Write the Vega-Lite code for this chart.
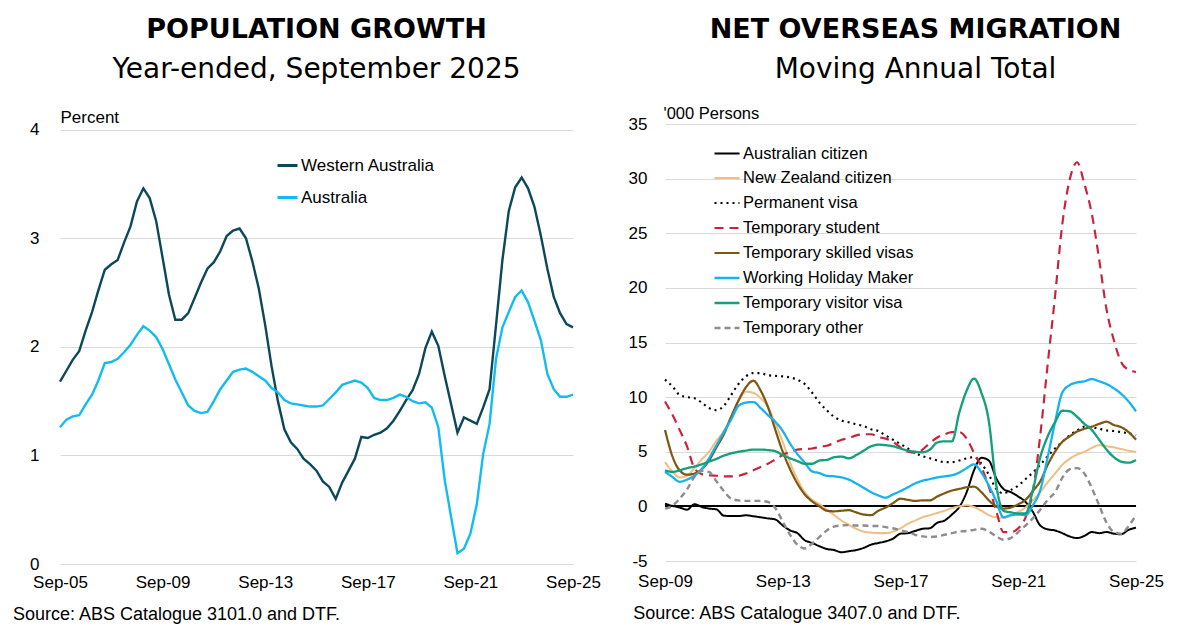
{
"$schema": "https://vega.github.io/schema/vega-lite/v6.json",
"background": "white",
"padding": {"left": 12, "top": 15, "right": 20, "bottom": 2},
"config": {
  "font": "Liberation Sans",
  "view": {"stroke": null},
  "axis": {"labelFont": "Liberation Sans", "titleFont": "Liberation Sans", "labelColor": "black", "titleColor": "black"},
  "legend": {"labelFont": "Liberation Sans"},
  "concat": {"spacing": 27}
},
"resolve": {"scale": {"color": "independent", "strokeDash": "independent", "strokeWidth": "independent", "x": "independent", "y": "independent"}},
"hconcat": [
{
  "width": 513, "height": 440,
  "title": {"text": "POPULATION GROWTH", "subtitle": "Year-ended, September 2025", "font": "DejaVu Sans", "fontSize": 27, "fontWeight": "bold", "color": "black", "subtitleFont": "DejaVu Sans", "subtitleFontSize": 28, "subtitleColor": "black", "subtitlePadding": 12, "anchor": "middle", "frame": "group", "offset": 23.6},
  "data": {"values": [
{"d":"2005-09-01","Western Australia":1.68,"Australia":1.26},
{"d":"2005-12-01","Western Australia":1.78,"Australia":1.33},
{"d":"2006-03-01","Western Australia":1.88,"Australia":1.36},
{"d":"2006-06-01","Western Australia":1.96,"Australia":1.37},
{"d":"2006-09-01","Western Australia":2.15,"Australia":1.47},
{"d":"2006-12-01","Western Australia":2.32,"Australia":1.56},
{"d":"2007-03-01","Western Australia":2.52,"Australia":1.69},
{"d":"2007-06-01","Western Australia":2.71,"Australia":1.85},
{"d":"2007-09-01","Western Australia":2.76,"Australia":1.86},
{"d":"2007-12-01","Western Australia":2.80,"Australia":1.89},
{"d":"2008-03-01","Western Australia":2.96,"Australia":1.95},
{"d":"2008-06-01","Western Australia":3.11,"Australia":2.02},
{"d":"2008-09-01","Western Australia":3.34,"Australia":2.11},
{"d":"2008-12-01","Western Australia":3.46,"Australia":2.19},
{"d":"2009-03-01","Western Australia":3.37,"Australia":2.15},
{"d":"2009-06-01","Western Australia":3.16,"Australia":2.09},
{"d":"2009-09-01","Western Australia":2.82,"Australia":1.98},
{"d":"2009-12-01","Western Australia":2.48,"Australia":1.84},
{"d":"2010-03-01","Western Australia":2.25,"Australia":1.70},
{"d":"2010-06-01","Western Australia":2.25,"Australia":1.58},
{"d":"2010-09-01","Western Australia":2.31,"Australia":1.46},
{"d":"2010-12-01","Western Australia":2.45,"Australia":1.41},
{"d":"2011-03-01","Western Australia":2.59,"Australia":1.39},
{"d":"2011-06-01","Western Australia":2.72,"Australia":1.40},
{"d":"2011-09-01","Western Australia":2.78,"Australia":1.50},
{"d":"2011-12-01","Western Australia":2.88,"Australia":1.61},
{"d":"2012-03-01","Western Australia":3.02,"Australia":1.69},
{"d":"2012-06-01","Western Australia":3.07,"Australia":1.77},
{"d":"2012-09-01","Western Australia":3.09,"Australia":1.79},
{"d":"2012-12-01","Western Australia":3.00,"Australia":1.80},
{"d":"2013-03-01","Western Australia":2.79,"Australia":1.77},
{"d":"2013-06-01","Western Australia":2.54,"Australia":1.73},
{"d":"2013-09-01","Western Australia":2.20,"Australia":1.69},
{"d":"2013-12-01","Western Australia":1.82,"Australia":1.62},
{"d":"2014-03-01","Western Australia":1.50,"Australia":1.58},
{"d":"2014-06-01","Western Australia":1.24,"Australia":1.51},
{"d":"2014-09-01","Western Australia":1.12,"Australia":1.48},
{"d":"2014-12-01","Western Australia":1.06,"Australia":1.47},
{"d":"2015-03-01","Western Australia":0.97,"Australia":1.46},
{"d":"2015-06-01","Western Australia":0.92,"Australia":1.45},
{"d":"2015-09-01","Western Australia":0.86,"Australia":1.45},
{"d":"2015-12-01","Western Australia":0.76,"Australia":1.46},
{"d":"2016-03-01","Western Australia":0.71,"Australia":1.52},
{"d":"2016-06-01","Western Australia":0.60,"Australia":1.58},
{"d":"2016-09-01","Western Australia":0.75,"Australia":1.65},
{"d":"2016-12-01","Western Australia":0.86,"Australia":1.67},
{"d":"2017-03-01","Western Australia":0.97,"Australia":1.69},
{"d":"2017-06-01","Western Australia":1.17,"Australia":1.67},
{"d":"2017-09-01","Western Australia":1.16,"Australia":1.62},
{"d":"2017-12-01","Western Australia":1.19,"Australia":1.53},
{"d":"2018-03-01","Western Australia":1.21,"Australia":1.51},
{"d":"2018-06-01","Western Australia":1.25,"Australia":1.51},
{"d":"2018-09-01","Western Australia":1.32,"Australia":1.53},
{"d":"2018-12-01","Western Australia":1.41,"Australia":1.56},
{"d":"2019-03-01","Western Australia":1.51,"Australia":1.54},
{"d":"2019-06-01","Western Australia":1.60,"Australia":1.50},
{"d":"2019-09-01","Western Australia":1.75,"Australia":1.48},
{"d":"2019-12-01","Western Australia":1.99,"Australia":1.49},
{"d":"2020-03-01","Western Australia":2.14,"Australia":1.44},
{"d":"2020-06-01","Western Australia":2.01,"Australia":1.26},
{"d":"2020-09-01","Western Australia":1.73,"Australia":0.77},
{"d":"2020-12-01","Western Australia":1.47,"Australia":0.43},
{"d":"2021-03-01","Western Australia":1.21,"Australia":0.10},
{"d":"2021-06-01","Western Australia":1.35,"Australia":0.14},
{"d":"2021-09-01","Western Australia":1.32,"Australia":0.28},
{"d":"2021-12-01","Western Australia":1.29,"Australia":0.55},
{"d":"2022-03-01","Western Australia":1.44,"Australia":1.01},
{"d":"2022-06-01","Western Australia":1.61,"Australia":1.29},
{"d":"2022-09-01","Western Australia":2.20,"Australia":1.89},
{"d":"2022-12-01","Western Australia":2.80,"Australia":2.18},
{"d":"2023-03-01","Western Australia":3.25,"Australia":2.32},
{"d":"2023-06-01","Western Australia":3.47,"Australia":2.46},
{"d":"2023-09-01","Western Australia":3.56,"Australia":2.52},
{"d":"2023-12-01","Western Australia":3.46,"Australia":2.41},
{"d":"2024-03-01","Western Australia":3.29,"Australia":2.24},
{"d":"2024-06-01","Western Australia":3.02,"Australia":2.06},
{"d":"2024-09-01","Western Australia":2.72,"Australia":1.75},
{"d":"2024-12-01","Western Australia":2.46,"Australia":1.61},
{"d":"2025-03-01","Western Australia":2.31,"Australia":1.54},
{"d":"2025-06-01","Western Australia":2.21,"Australia":1.54},
{"d":"2025-09-01","Western Australia":2.18,"Australia":1.56}
  ]},
  "transform": [{"fold": ["Western Australia", "Australia"], "as": ["series", "value"]}],
  "mark": {"type": "line", "strokeWidth": 2.4, "interpolate": "linear"},
  "encoding": {
    "x": {"field": "d", "type": "temporal", "scale": {"type": "utc", "nice": false},
      "axis": {"values": [{"year":2005,"month":9,"date":1,"utc":true},{"year":2009,"month":9,"date":1,"utc":true},{"year":2013,"month":9,"date":1,"utc":true},{"year":2017,"month":9,"date":1,"utc":true},{"year":2021,"month":9,"date":1,"utc":true},{"year":2025,"month":9,"date":1,"utc":true}],
        "format": "%b-%y", "grid": false, "domain": false, "ticks": false, "labelFlush": false, "labelFontSize": 17, "labelPadding": 10,
        "title": "Source: ABS Catalogue 3101.0 and DTF.", "titleX": -47.6, "titleY": 55, "titleAlign": "left", "titleBaseline": "alphabetic", "titleFontSize": 18, "titleFontWeight": "normal"}},
    "y": {"field": "value", "type": "quantitative", "scale": {"domain": [0, 4.0525], "nice": false, "zero": false},
      "axis": {"values": [0,1,2,3,4], "grid": true, "gridColor": "#d9d9d9", "gridWidth": 1, "domain": false, "ticks": false, "labelFontSize": 17, "labelPadding": 21,
        "title": "Percent", "titleAngle": 0, "titleX": 0, "titleY": -1.6, "titleAlign": "left", "titleBaseline": "alphabetic", "titleFontSize": 17, "titleFontWeight": "normal"}},
    "color": {"field": "series", "type": "nominal", "scale": {"domain": ["Western Australia", "Australia"], "range": ["#0b4859", "#13bcef"]},
      "legend": {"title": null, "orient": "none", "legendX": 216, "legendY": 30, "symbolType": "stroke", "symbolSize": 400, "symbolStrokeWidth": 3, "labelFontSize": 17, "labelColor": "black", "labelOffset": 2, "rowPadding": 12, "labelLimit": 400}}
  }
},
{
  "width": 471, "height": 437,
  "title": {"text": "NET OVERSEAS MIGRATION", "subtitle": "Moving Annual Total", "font": "DejaVu Sans", "fontSize": 27, "fontWeight": "bold", "color": "black", "subtitleFont": "DejaVu Sans", "subtitleFontSize": 28, "subtitleColor": "black", "subtitlePadding": 12, "anchor": "middle", "frame": "group", "offset": 20.6, "dx": 15},
  "data": {"values": [
{"d":"2009-09-01","Australian citizen":0.25,"New Zealand citizen":4.05,"Permanent visa":11.6,"Temporary student":9.6,"Temporary skilled visas":7.0,"Working Holiday Maker":3.15,"Temporary visitor visa":3.3,"Temporary other":-0.2},
{"d":"2009-12-01","Australian citizen":0.05,"New Zealand citizen":3.2,"Permanent visa":11.0,"Temporary student":8.4,"Temporary skilled visas":4.6,"Working Holiday Maker":2.7,"Temporary visitor visa":3.15,"Temporary other":0.05},
{"d":"2010-03-01","Australian citizen":-0.1,"New Zealand citizen":2.65,"Permanent visa":10.2,"Temporary student":7.0,"Temporary skilled visas":3.3,"Working Holiday Maker":2.25,"Temporary visitor visa":3.3,"Temporary other":0.7},
{"d":"2010-06-01","Australian citizen":-0.3,"New Zealand citizen":2.8,"Permanent visa":10.0,"Temporary student":5.5,"Temporary skilled visas":2.9,"Working Holiday Maker":2.45,"Temporary visitor visa":3.5,"Temporary other":1.55},
{"d":"2010-09-01","Australian citizen":0.2,"New Zealand citizen":3.5,"Permanent visa":9.9,"Temporary student":3.5,"Temporary skilled visas":3.0,"Working Holiday Maker":2.8,"Temporary visitor visa":3.65,"Temporary other":2.7},
{"d":"2010-12-01","Australian citizen":-0.05,"New Zealand citizen":4.3,"Permanent visa":9.5,"Temporary student":2.95,"Temporary skilled visas":3.4,"Working Holiday Maker":3.4,"Temporary visitor visa":3.85,"Temporary other":3.25},
{"d":"2011-03-01","Australian citizen":-0.2,"New Zealand citizen":5.0,"Permanent visa":9.0,"Temporary student":2.85,"Temporary skilled visas":4.2,"Working Holiday Maker":4.4,"Temporary visitor visa":4.1,"Temporary other":3.15},
{"d":"2011-06-01","Australian citizen":-0.27,"New Zealand citizen":6.0,"Permanent visa":8.8,"Temporary student":2.8,"Temporary skilled visas":5.4,"Working Holiday Maker":5.6,"Temporary visitor visa":4.35,"Temporary other":2.3},
{"d":"2011-09-01","Australian citizen":-0.85,"New Zealand citizen":6.9,"Permanent visa":9.2,"Temporary student":2.75,"Temporary skilled visas":6.6,"Working Holiday Maker":6.8,"Temporary visitor visa":4.65,"Temporary other":1.4},
{"d":"2011-12-01","Australian citizen":-0.88,"New Zealand citizen":8.2,"Permanent visa":10.2,"Temporary student":2.75,"Temporary skilled visas":8.2,"Working Holiday Maker":7.95,"Temporary visitor visa":4.85,"Temporary other":0.7},
{"d":"2012-03-01","Australian citizen":-0.88,"New Zealand citizen":9.6,"Permanent visa":11.2,"Temporary student":2.8,"Temporary skilled visas":9.7,"Working Holiday Maker":9.2,"Temporary visitor visa":5.0,"Temporary other":0.55},
{"d":"2012-06-01","Australian citizen":-0.82,"New Zealand citizen":10.5,"Permanent visa":11.9,"Temporary student":3.0,"Temporary skilled visas":10.9,"Working Holiday Maker":9.5,"Temporary visitor visa":5.1,"Temporary other":0.5},
{"d":"2012-09-01","Australian citizen":-0.9,"New Zealand citizen":10.4,"Permanent visa":12.2,"Temporary student":3.3,"Temporary skilled visas":11.5,"Working Holiday Maker":9.55,"Temporary visitor visa":5.2,"Temporary other":0.5},
{"d":"2012-12-01","Australian citizen":-1.0,"New Zealand citizen":9.9,"Permanent visa":12.2,"Temporary student":3.6,"Temporary skilled visas":10.6,"Working Holiday Maker":9.0,"Temporary visitor visa":5.2,"Temporary other":0.5},
{"d":"2013-03-01","Australian citizen":-1.1,"New Zealand citizen":9.1,"Permanent visa":12.0,"Temporary student":3.9,"Temporary skilled visas":9.1,"Working Holiday Maker":8.35,"Temporary visitor visa":5.15,"Temporary other":0.4},
{"d":"2013-06-01","Australian citizen":-1.2,"New Zealand citizen":7.6,"Permanent visa":11.95,"Temporary student":4.3,"Temporary skilled visas":7.0,"Working Holiday Maker":7.75,"Temporary visitor visa":5.05,"Temporary other":-0.15},
{"d":"2013-09-01","Australian citizen":-1.75,"New Zealand citizen":5.9,"Permanent visa":11.9,"Temporary student":4.7,"Temporary skilled visas":5.0,"Working Holiday Maker":6.9,"Temporary visitor visa":4.7,"Temporary other":-1.4},
{"d":"2013-12-01","Australian citizen":-2.2,"New Zealand citizen":4.0,"Permanent visa":11.8,"Temporary student":5.0,"Temporary skilled visas":3.4,"Working Holiday Maker":5.75,"Temporary visitor visa":4.4,"Temporary other":-2.6},
{"d":"2014-03-01","Australian citizen":-2.45,"New Zealand citizen":2.5,"Permanent visa":11.6,"Temporary student":5.2,"Temporary skilled visas":2.1,"Working Holiday Maker":4.8,"Temporary visitor visa":4.15,"Temporary other":-3.5},
{"d":"2014-06-01","Australian citizen":-3.1,"New Zealand citizen":1.3,"Permanent visa":11.2,"Temporary student":5.25,"Temporary skilled visas":1.1,"Working Holiday Maker":4.0,"Temporary visitor visa":3.9,"Temporary other":-3.85},
{"d":"2014-09-01","Australian citizen":-3.35,"New Zealand citizen":0.6,"Permanent visa":10.4,"Temporary student":5.3,"Temporary skilled visas":0.45,"Working Holiday Maker":3.2,"Temporary visitor visa":3.9,"Temporary other":-3.4},
{"d":"2014-12-01","Australian citizen":-3.65,"New Zealand citizen":0.2,"Permanent visa":9.5,"Temporary student":5.45,"Temporary skilled visas":0.0,"Working Holiday Maker":3.05,"Temporary visitor visa":4.2,"Temporary other":-2.8},
{"d":"2015-03-01","Australian citizen":-3.9,"New Zealand citizen":-0.3,"Permanent visa":8.8,"Temporary student":5.55,"Temporary skilled visas":-0.4,"Working Holiday Maker":2.8,"Temporary visitor visa":4.25,"Temporary other":-2.2},
{"d":"2015-06-01","Australian citizen":-4.0,"New Zealand citizen":-0.8,"Permanent visa":8.2,"Temporary student":5.8,"Temporary skilled visas":-0.45,"Working Holiday Maker":2.75,"Temporary visitor visa":4.5,"Temporary other":-1.85},
{"d":"2015-09-01","Australian citizen":-4.2,"New Zealand citizen":-1.3,"Permanent visa":7.85,"Temporary student":6.1,"Temporary skilled visas":-0.4,"Working Holiday Maker":2.65,"Temporary visitor visa":4.55,"Temporary other":-1.75},
{"d":"2015-12-01","Australian citizen":-4.1,"New Zealand citizen":-1.7,"Permanent visa":7.7,"Temporary student":6.25,"Temporary skilled visas":-0.35,"Working Holiday Maker":2.45,"Temporary visitor visa":4.4,"Temporary other":-1.7},
{"d":"2016-03-01","Australian citizen":-4.0,"New Zealand citizen":-2.05,"Permanent visa":7.5,"Temporary student":6.5,"Temporary skilled visas":-0.55,"Working Holiday Maker":2.1,"Temporary visitor visa":4.7,"Temporary other":-1.75},
{"d":"2016-06-01","Australian citizen":-3.8,"New Zealand citizen":-2.3,"Permanent visa":7.35,"Temporary student":6.6,"Temporary skilled visas":-0.75,"Working Holiday Maker":1.7,"Temporary visitor visa":5.1,"Temporary other":-1.75},
{"d":"2016-09-01","Australian citizen":-3.5,"New Zealand citizen":-2.4,"Permanent visa":7.05,"Temporary student":6.6,"Temporary skilled visas":-0.8,"Working Holiday Maker":1.3,"Temporary visitor visa":5.5,"Temporary other":-1.8},
{"d":"2016-12-01","Australian citizen":-3.35,"New Zealand citizen":-2.45,"Permanent visa":6.9,"Temporary student":6.35,"Temporary skilled visas":-0.4,"Working Holiday Maker":1.0,"Temporary visitor visa":5.65,"Temporary other":-1.8},
{"d":"2017-03-01","Australian citizen":-3.2,"New Zealand citizen":-2.45,"Permanent visa":6.5,"Temporary student":6.2,"Temporary skilled visas":-0.1,"Working Holiday Maker":0.8,"Temporary visitor visa":5.6,"Temporary other":-1.9},
{"d":"2017-06-01","Australian citizen":-2.95,"New Zealand citizen":-2.3,"Permanent visa":6.1,"Temporary student":5.9,"Temporary skilled visas":0.3,"Working Holiday Maker":1.1,"Temporary visitor visa":5.5,"Temporary other":-2.0},
{"d":"2017-09-01","Australian citizen":-2.5,"New Zealand citizen":-2.0,"Permanent visa":5.7,"Temporary student":5.4,"Temporary skilled visas":0.7,"Working Holiday Maker":1.4,"Temporary visitor visa":5.3,"Temporary other":-2.2},
{"d":"2017-12-01","Australian citizen":-2.45,"New Zealand citizen":-1.6,"Permanent visa":5.3,"Temporary student":5.0,"Temporary skilled visas":0.6,"Working Holiday Maker":1.75,"Temporary visitor visa":5.1,"Temporary other":-2.35},
{"d":"2018-03-01","Australian citizen":-2.25,"New Zealand citizen":-1.3,"Permanent visa":4.9,"Temporary student":4.9,"Temporary skilled visas":0.5,"Working Holiday Maker":2.1,"Temporary visitor visa":5.0,"Temporary other":-2.6},
{"d":"2018-06-01","Australian citizen":-2.05,"New Zealand citizen":-1.0,"Permanent visa":4.6,"Temporary student":5.2,"Temporary skilled visas":0.55,"Working Holiday Maker":2.35,"Temporary visitor visa":4.95,"Temporary other":-2.75},
{"d":"2018-09-01","Australian citizen":-2.0,"New Zealand citizen":-0.8,"Permanent visa":4.4,"Temporary student":5.8,"Temporary skilled visas":0.55,"Working Holiday Maker":2.5,"Temporary visitor visa":5.2,"Temporary other":-2.8},
{"d":"2018-12-01","Australian citizen":-1.5,"New Zealand citizen":-0.6,"Permanent visa":4.2,"Temporary student":6.3,"Temporary skilled visas":0.9,"Working Holiday Maker":2.65,"Temporary visitor visa":5.85,"Temporary other":-2.75},
{"d":"2019-03-01","Australian citizen":-1.3,"New Zealand citizen":-0.4,"Permanent visa":4.05,"Temporary student":6.6,"Temporary skilled visas":1.2,"Working Holiday Maker":2.75,"Temporary visitor visa":5.95,"Temporary other":-2.6},
{"d":"2019-06-01","Australian citizen":-0.75,"New Zealand citizen":-0.15,"Permanent visa":4.05,"Temporary student":6.8,"Temporary skilled visas":1.45,"Working Holiday Maker":2.85,"Temporary visitor visa":5.95,"Temporary other":-2.45},
{"d":"2019-09-01","Australian citizen":-0.05,"New Zealand citizen":0.0,"Permanent visa":4.2,"Temporary student":6.8,"Temporary skilled visas":1.6,"Working Holiday Maker":3.1,"Temporary visitor visa":8.6,"Temporary other":-2.3},
{"d":"2019-12-01","Australian citizen":1.3,"New Zealand citizen":0.1,"Permanent visa":4.4,"Temporary student":6.2,"Temporary skilled visas":1.75,"Working Holiday Maker":3.5,"Temporary visitor visa":10.6,"Temporary other":-2.25},
{"d":"2020-03-01","Australian citizen":3.3,"New Zealand citizen":-0.05,"Permanent visa":4.5,"Temporary student":4.9,"Temporary skilled visas":1.8,"Working Holiday Maker":3.85,"Temporary visitor visa":11.7,"Temporary other":-2.15},
{"d":"2020-06-01","Australian citizen":4.45,"New Zealand citizen":-0.4,"Permanent visa":3.9,"Temporary student":3.6,"Temporary skilled visas":1.3,"Working Holiday Maker":3.1,"Temporary visitor visa":10.4,"Temporary other":-2.05},
{"d":"2020-09-01","Australian citizen":4.2,"New Zealand citizen":-0.8,"Permanent visa":2.9,"Temporary student":1.8,"Temporary skilled visas":0.55,"Working Holiday Maker":1.9,"Temporary visitor visa":7.8,"Temporary other":-2.3},
{"d":"2020-12-01","Australian citizen":2.6,"New Zealand citizen":-1.0,"Permanent visa":1.6,"Temporary student":-0.4,"Temporary skilled visas":0.0,"Working Holiday Maker":0.5,"Temporary visitor visa":2.0,"Temporary other":-2.75},
{"d":"2021-03-01","Australian citizen":1.6,"New Zealand citizen":-1.05,"Permanent visa":1.2,"Temporary student":-2.35,"Temporary skilled visas":-0.2,"Working Holiday Maker":-1.0,"Temporary visitor visa":-0.4,"Temporary other":-3.05},
{"d":"2021-06-01","Australian citizen":1.3,"New Zealand citizen":-0.85,"Permanent visa":1.5,"Temporary student":-2.35,"Temporary skilled visas":-0.1,"Working Holiday Maker":-0.8,"Temporary visitor visa":-0.55,"Temporary other":-2.9},
{"d":"2021-09-01","Australian citizen":0.9,"New Zealand citizen":-0.5,"Permanent visa":1.9,"Temporary student":-2.0,"Temporary skilled visas":0.2,"Working Holiday Maker":-0.75,"Temporary visitor visa":-0.65,"Temporary other":-2.35},
{"d":"2021-12-01","Australian citizen":0.4,"New Zealand citizen":-0.1,"Permanent visa":2.5,"Temporary student":-1.0,"Temporary skilled visas":0.6,"Working Holiday Maker":-0.8,"Temporary visitor visa":-0.65,"Temporary other":-1.75},
{"d":"2022-03-01","Australian citizen":-0.5,"New Zealand citizen":0.55,"Permanent visa":3.1,"Temporary student":1.4,"Temporary skilled visas":1.4,"Working Holiday Maker":0.1,"Temporary visitor visa":1.5,"Temporary other":-1.1},
{"d":"2022-06-01","Australian citizen":-1.75,"New Zealand citizen":1.3,"Permanent visa":3.8,"Temporary student":6.5,"Temporary skilled visas":2.3,"Working Holiday Maker":1.5,"Temporary visitor visa":4.5,"Temporary other":-0.3},
{"d":"2022-09-01","Australian citizen":-2.1,"New Zealand citizen":2.2,"Permanent visa":4.6,"Temporary student":13.0,"Temporary skilled visas":3.8,"Working Holiday Maker":4.5,"Temporary visitor visa":6.4,"Temporary other":0.6},
{"d":"2022-12-01","Australian citizen":-2.2,"New Zealand citizen":3.0,"Permanent visa":5.3,"Temporary student":19.2,"Temporary skilled visas":5.0,"Working Holiday Maker":7.7,"Temporary visitor visa":7.7,"Temporary other":1.3},
{"d":"2023-03-01","Australian citizen":-2.45,"New Zealand citizen":3.8,"Permanent visa":5.9,"Temporary student":25.8,"Temporary skilled visas":5.9,"Working Holiday Maker":10.4,"Temporary visitor visa":8.75,"Temporary other":2.6},
{"d":"2023-06-01","Australian citizen":-2.75,"New Zealand citizen":4.35,"Permanent visa":6.5,"Temporary student":29.9,"Temporary skilled visas":6.4,"Working Holiday Maker":11.1,"Temporary visitor visa":8.7,"Temporary other":3.4},
{"d":"2023-09-01","Australian citizen":-2.9,"New Zealand citizen":4.75,"Permanent visa":6.95,"Temporary student":31.5,"Temporary skilled visas":6.85,"Working Holiday Maker":11.35,"Temporary visitor visa":8.2,"Temporary other":3.5},
{"d":"2023-12-01","Australian citizen":-2.7,"New Zealand citizen":5.0,"Permanent visa":7.3,"Temporary student":29.5,"Temporary skilled visas":7.1,"Working Holiday Maker":11.45,"Temporary visitor visa":7.55,"Temporary other":3.0},
{"d":"2024-03-01","Australian citizen":-2.35,"New Zealand citizen":5.35,"Permanent visa":7.25,"Temporary student":26.8,"Temporary skilled visas":7.3,"Working Holiday Maker":11.65,"Temporary visitor visa":7.0,"Temporary other":1.7},
{"d":"2024-06-01","Australian citizen":-2.45,"New Zealand citizen":5.6,"Permanent visa":7.1,"Temporary student":22.6,"Temporary skilled visas":7.55,"Working Holiday Maker":11.45,"Temporary visitor visa":6.1,"Temporary other":0.1},
{"d":"2024-09-01","Australian citizen":-2.35,"New Zealand citizen":5.5,"Permanent visa":6.95,"Temporary student":18.0,"Temporary skilled visas":7.75,"Working Holiday Maker":11.2,"Temporary visitor visa":5.2,"Temporary other":-1.5},
{"d":"2024-12-01","Australian citizen":-2.5,"New Zealand citizen":5.4,"Permanent visa":6.9,"Temporary student":15.2,"Temporary skilled visas":7.45,"Working Holiday Maker":10.8,"Temporary visitor visa":4.5,"Temporary other":-2.35},
{"d":"2025-03-01","Australian citizen":-2.55,"New Zealand citizen":5.25,"Permanent visa":6.8,"Temporary student":13.2,"Temporary skilled visas":7.25,"Working Holiday Maker":10.3,"Temporary visitor visa":4.1,"Temporary other":-2.5},
{"d":"2025-06-01","Australian citizen":-2.15,"New Zealand citizen":5.1,"Permanent visa":6.7,"Temporary student":12.5,"Temporary skilled visas":6.8,"Working Holiday Maker":9.6,"Temporary visitor visa":4.0,"Temporary other":-1.8},
{"d":"2025-09-01","Australian citizen":-1.95,"New Zealand citizen":5.0,"Permanent visa":6.5,"Temporary student":12.3,"Temporary skilled visas":6.1,"Working Holiday Maker":8.7,"Temporary visitor visa":4.25,"Temporary other":-0.8}
  ]},
  "transform": [{"fold": ["Australian citizen", "New Zealand citizen", "Permanent visa", "Temporary student", "Temporary skilled visas", "Working Holiday Maker", "Temporary visitor visa", "Temporary other"], "as": ["series", "value"]}],
  "layer": [
    {"mark": {"type": "rule", "color": "black", "strokeWidth": 1.2}, "encoding": {"y": {"datum": 0, "type": "quantitative"}}},
    {
      "mark": {"type": "line", "interpolate": "monotone"},
      "encoding": {
        "x": {"field": "d", "type": "temporal", "scale": {"type": "utc", "nice": false},
          "axis": {"values": [{"year":2009,"month":9,"date":1,"utc":true},{"year":2013,"month":9,"date":1,"utc":true},{"year":2017,"month":9,"date":1,"utc":true},{"year":2021,"month":9,"date":1,"utc":true},{"year":2025,"month":9,"date":1,"utc":true}],
            "format": "%b-%y", "grid": false, "domain": false, "ticks": false, "labelFlush": false, "labelFontSize": 17, "labelPadding": 12,
            "title": "Source: ABS Catalogue 3407.0 and DTF.", "titleX": -32.3, "titleY": 57.5, "titleAlign": "left", "titleBaseline": "alphabetic", "titleFontSize": 18, "titleFontWeight": "normal"}},
        "y": {"field": "value", "type": "quantitative", "scale": {"domain": [-5, 35], "nice": false, "zero": false},
          "axis": {"values": [-5,0,5,10,15,20,25,30,35], "labelExpr": "'' + datum.value", "grid": true, "gridColor": "#d9d9d9", "gridWidth": 1, "domain": false, "ticks": false, "labelFontSize": 17, "labelPadding": 18,
            "title": "'000 Persons", "titleAngle": 0, "titleX": -2, "titleY": -5.5, "titleAlign": "left", "titleBaseline": "alphabetic", "titleFontSize": 16.5, "titleFontWeight": "normal"}},
        "color": {"field": "series", "type": "nominal",
          "scale": {"domain": ["Australian citizen", "New Zealand citizen", "Permanent visa", "Temporary student", "Temporary skilled visas", "Working Holiday Maker", "Temporary visitor visa", "Temporary other"],
                    "range": ["#000000", "#f0bf86", "#000000", "#c9233c", "#7e5711", "#14b2ee", "#13a07a", "#8d8d8d"]},
          "legend": {"title": null, "orient": "none", "legendX": 48, "legendY": 16, "symbolType": "stroke", "symbolSize": 625, "labelFontSize": 16.5, "labelColor": "black", "labelOffset": 2, "rowPadding": 2, "labelLimit": 400}},
        "strokeDash": {"field": "series", "type": "nominal",
          "scale": {"domain": ["Australian citizen", "New Zealand citizen", "Permanent visa", "Temporary student", "Temporary skilled visas", "Working Holiday Maker", "Temporary visitor visa", "Temporary other"],
                    "range": [[1,0], [1,0], [2,4], [9,6], [1,0], [1,0], [1,0], [6,4]]},
          "legend": {"title": null, "orient": "none", "legendX": 48, "legendY": 16, "symbolType": "stroke", "symbolSize": 625, "labelFontSize": 16.5, "labelColor": "black", "labelOffset": 2, "rowPadding": 2, "labelLimit": 400}},
        "strokeWidth": {"field": "series", "type": "nominal",
          "scale": {"domain": ["Australian citizen", "New Zealand citizen", "Permanent visa", "Temporary student", "Temporary skilled visas", "Working Holiday Maker", "Temporary visitor visa", "Temporary other"],
                    "range": [2, 2.4, 2.4, 2.5, 2.5, 2.5, 1.1, 2.2]},
          "legend": {"title": null, "orient": "none", "legendX": 48, "legendY": 16, "symbolType": "stroke", "symbolSize": 625, "labelFontSize": 16.5, "labelColor": "black", "labelOffset": 2, "rowPadding": 2, "labelLimit": 400}}
      }
    }
  ]
}
]
}
